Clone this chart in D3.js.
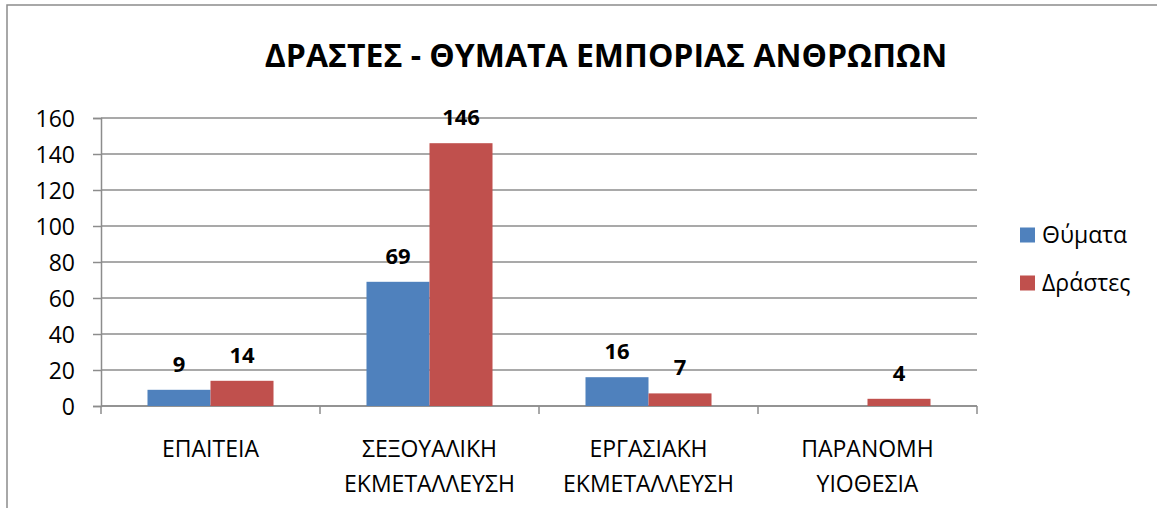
<!DOCTYPE html>
<html>
<head>
<meta charset="utf-8">
<script src="https://cdn.jsdelivr.net/npm/d3@7"></script>
<style>
  body { margin: 0; background: #fff; }
  text { font-family: "Open Sans", "Noto Sans", sans-serif; fill: #000; }
</style>
</head>
<body>
<svg id="chart"></svg>
<script>
// Chart data
const categories = [
    ['ΕΠΑΙΤΕΙΑ'],
    ['ΣΕΞΟΥΑΛΙΚΗ', 'ΕΚΜΕΤΑΛΛΕΥΣΗ'],
    ['ΕΡΓΑΣΙΑΚΗ', 'ΕΚΜΕΤΑΛΛΕΥΣΗ'],
    ['ΠΑΡΑΝΟΜΗ', 'ΥΙΟΘΕΣΙΑ']
];
const seriesNames = ['Θύματα', 'Δράστες'];
const victims = [9, 69, 16, null];
const offenders = [14, 146, 7, 4];
const yTicks = [0, 20, 40, 60, 80, 100, 120, 140, 160];
const colors = ['#4F81BD', '#C0504D'];

const width = 1157;
const height = 508;

const svg = d3.select('#chart')
    .attr('width', width)
    .attr('height', height);

// Outer chart frame (runs past the right and bottom edges)
svg.append('rect')
    .attr('x', 7)
    .attr('y', 5)
    .attr('width', width + 20)
    .attr('height', height + 20)
    .attr('fill', 'none')
    .attr('stroke', '#8c8c8c')
    .attr('stroke-width', 1.5);

// Title
svg.append('text')
    .attr('x', 606)
    .attr('y', 67)
    .attr('text-anchor', 'middle')
    .style('font-size', '32px')
    .style('font-weight', 'bold')
    .text('ΔΡΑΣΤΕΣ - ΘΥΜΑΤΑ ΕΜΠΟΡΙΑΣ ΑΝΘΡΩΠΩΝ');

// Scales
const catKeys = categories.map(c => c.join(' '));
const x0 = d3.scaleBand()
    .domain(catKeys)
    .range([101, 977]);

const gap = x0.bandwidth() * 0.2123;
const x1 = d3.scaleBand()
    .domain(seriesNames)
    .range([gap, x0.bandwidth() - gap]);

const y = d3.scaleLinear()
    .domain([0, 160])
    .range([406, 118]);

// Gridlines
svg.append('g')
    .selectAll('line')
    .data(yTicks)
    .enter().append('line')
    .attr('x1', 101)
    .attr('x2', 977)
    .attr('y1', d => y(d))
    .attr('y2', d => y(d))
    .attr('stroke', '#8c8c8c')
    .attr('stroke-width', 1.5);

// Y axis
const yAxis = svg.append('g')
    .attr('transform', 'translate(101,0)')
    .call(d3.axisLeft(y).tickValues(yTicks).tickSize(8).tickPadding(18));
yAxis.select('.domain').attr('stroke', '#8c8c8c').attr('stroke-width', 1.5);
yAxis.selectAll('.tick line').attr('stroke', '#8c8c8c').attr('stroke-width', 1.5);
yAxis.selectAll('.tick text')
    .style('font-size', '23px')
    .attr('dy', '0.36em');

// X axis (tick marks at category boundaries)
const xAxis = svg.append('g')
    .attr('transform', `translate(0,${y(0)})`);
xAxis.append('line')
    .attr('x1', 101)
    .attr('x2', 977)
    .attr('stroke', '#8c8c8c')
    .attr('stroke-width', 1.5);
const boundaries = catKeys.map(k => x0(k)).concat([x0.range()[1]]);
xAxis.selectAll('.xtick')
    .data(boundaries)
    .enter().append('line')
    .attr('class', 'xtick')
    .attr('x1', d => d)
    .attr('x2', d => d)
    .attr('y1', 0)
    .attr('y2', 8)
    .attr('stroke', '#8c8c8c')
    .attr('stroke-width', 1.5);

// Category labels
const catLabel = svg.append('g')
    .selectAll('text')
    .data(categories)
    .enter().append('text')
    .attr('text-anchor', 'middle')
    .style('font-size', '23px');
catLabel.selectAll('tspan')
    .data(d => d.map(line => ({ line, key: d.join(' ') })))
    .enter().append('tspan')
    .attr('x', d => x0(d.key) + x0.bandwidth() / 2)
    .attr('y', (d, i) => 457 + i * 35)
    .text(d => d.line);

// Bars
const rows = catKeys.map((k, i) => ({
    key: k,
    values: [
        { series: seriesNames[0], value: victims[i] },
        { series: seriesNames[1], value: offenders[i] }
    ].filter(v => v.value !== null)
}));

const group = svg.append('g')
    .selectAll('g')
    .data(rows)
    .enter().append('g')
    .attr('transform', d => `translate(${x0(d.key)},0)`);

group.selectAll('rect')
    .data(d => d.values)
    .enter().append('rect')
    .attr('x', d => x1(d.series))
    .attr('y', d => y(d.value))
    .attr('width', x1.bandwidth())
    .attr('height', d => y(0) - y(d.value))
    .attr('fill', d => colors[seriesNames.indexOf(d.series)]);

// Data labels
group.selectAll('.value')
    .data(d => d.values)
    .enter().append('text')
    .attr('class', 'value')
    .attr('x', d => x1(d.series) + x1.bandwidth() / 2)
    .attr('y', d => y(d.value) - 18)
    .attr('text-anchor', 'middle')
    .style('font-size', '22px')
    .style('font-weight', 'bold')
    .text(d => d.value);

// Legend
const legend = svg.append('g')
    .selectAll('g')
    .data(seriesNames)
    .enter().append('g')
    .attr('transform', (d, i) => `translate(1020,${235 + i * 48})`);

legend.append('rect')
    .attr('x', 0)
    .attr('y', -7.5)
    .attr('width', 15)
    .attr('height', 15)
    .attr('fill', (d, i) => colors[i]);

legend.append('text')
    .attr('x', 22)
    .attr('y', 0)
    .attr('dy', '0.36em')
    .style('font-size', '23px')
    .text(d => d);
</script>
</body>
</html>
